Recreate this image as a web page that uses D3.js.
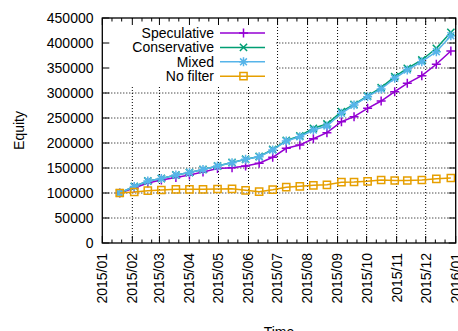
<!DOCTYPE html>
<html>
<head>
<meta charset="utf-8">
<script src="https://cdn.jsdelivr.net/npm/d3@7"></script>
<style>
  html, body { margin: 0; padding: 0; background: #fff; }
  svg { display: block; font-family: "Liberation Sans", Arial, Helvetica, sans-serif; }
</style>
</head>
<body>
<svg id="chart" width="458" height="331"></svg>
<script>
// Sampling dates (roughly every two weeks through 2015)
const dates = [
  "2015-01-19", "2015-02-03", "2015-02-17", "2015-03-03", "2015-03-18",
  "2015-04-01", "2015-04-15", "2015-04-30", "2015-05-15", "2015-05-29",
  "2015-06-12", "2015-06-26", "2015-07-10", "2015-07-24", "2015-08-07",
  "2015-08-21", "2015-09-05", "2015-09-18", "2015-10-02", "2015-10-16",
  "2015-10-30", "2015-11-12", "2015-11-27", "2015-12-12", "2015-12-27"
];

// Equity of each strategy on the dates above
const speculative = [
  100000, 110000, 120000, 126000, 131000, 136000, 142000, 149000, 150500, 154000,
  159400, 171400, 189400, 196000, 208600, 220600, 242600, 252600, 269400, 284000,
  302600, 319400, 334600, 357400, 384000
];
const conservative = [
  100000, 113000, 124000, 129000, 136000, 141000, 147000, 154000, 161000, 167500,
  173000, 187000, 205000, 214000, 229400, 238000, 262600, 277000, 294000, 310600,
  332600, 349400, 366000, 389400, 421400
];
const mixed = [
  100000, 113000, 124000, 129000, 136000, 141000, 147000, 154000, 160600, 167300,
  172600, 186000, 204000, 212600, 226000, 234000, 259400, 276000, 292600, 308000,
  329400, 346000, 362600, 382600, 414600
];
const noFilter = [
  100000, 102000, 104600, 106000, 107400, 107400, 107400, 108000, 108400, 105400,
  102600, 106600, 111600, 113400, 115400, 116400, 121600, 122000, 123400, 126000,
  125000, 125000, 126000, 128400, 130000
];

const seriesNames = ["Speculative", "Conservative", "Mixed", "No filter"];
const seriesValues = [speculative, conservative, mixed, noFilter];
const seriesColors = ["#9400d3", "#009e73", "#56b4e9", "#e69f00"];
const seriesMarkers = ["plus", "times", "star", "square"];

const yTicks = [0, 50000, 100000, 150000, 200000, 250000, 300000, 350000, 400000, 450000];
const xDomain = ["2015-01-01", "2016-01-01"];

const svg = d3.select("#chart");
const plot = { left: 102.3, right: 455.7, top: 18, bottom: 243 };

const parse = d3.utcParse("%Y-%m-%d");
const x = d3.scaleUtc().domain(xDomain.map(parse)).range([plot.left, plot.right]);
const y = d3.scaleLinear().domain([0, 450000]).range([plot.bottom, plot.top]);

const monthTicks = d3.utcMonth.range(parse(xDomain[0]), d3.utcDay.offset(parse(xDomain[1]), 1));
const minorTicks = [];
monthTicks.slice(0, -1).forEach(m => {
  minorTicks.push(d3.utcDay.offset(m, 10), d3.utcDay.offset(m, 20));
});

// grid
const grid = svg.append("g").attr("stroke", "#000").attr("stroke-width", 1)
  .attr("stroke-dasharray", "1,2").attr("fill", "none");
monthTicks.slice(1, -1).forEach(t => {
  grid.append("line").attr("x1", x(t)).attr("x2", x(t))
    .attr("y1", plot.top).attr("y2", plot.bottom);
});
yTicks.slice(1, -1).forEach(v => {
  grid.append("line").attr("x1", plot.left).attr("x2", plot.right)
    .attr("y1", y(v)).attr("y2", y(v));
});

// opaque key background
svg.append("rect").attr("x", plot.left + 1).attr("y", plot.top + 1)
  .attr("width", 172).attr("height", 66).attr("fill", "#fff");

// tick marks on all four sides
const ticks = svg.append("g").attr("stroke", "#000").attr("stroke-width", 1);
monthTicks.forEach(t => {
  ticks.append("line").attr("x1", x(t)).attr("x2", x(t)).attr("y1", plot.bottom).attr("y2", plot.bottom - 7);
  ticks.append("line").attr("x1", x(t)).attr("x2", x(t)).attr("y1", plot.top).attr("y2", plot.top + 7);
});
minorTicks.forEach(t => {
  ticks.append("line").attr("x1", x(t)).attr("x2", x(t)).attr("y1", plot.bottom).attr("y2", plot.bottom - 3.5);
  ticks.append("line").attr("x1", x(t)).attr("x2", x(t)).attr("y1", plot.top).attr("y2", plot.top + 3.5);
});
yTicks.forEach(v => {
  ticks.append("line").attr("x1", plot.left).attr("x2", plot.left + 7).attr("y1", y(v)).attr("y2", y(v));
  ticks.append("line").attr("x1", plot.right).attr("x2", plot.right - 7).attr("y1", y(v)).attr("y2", y(v));
});

// tick labels
const fs = 14;
svg.append("g").selectAll("text").data(yTicks).join("text")
  .attr("x", 93.5).attr("y", d => y(d)).attr("dy", "0.35em")
  .attr("text-anchor", "end").attr("font-size", fs).attr("fill", "#000")
  .text(d => d);

const fmt = d3.utcFormat("%Y/%m");
svg.append("g").selectAll("text").data(monthTicks).join("text")
  .attr("transform", d => `translate(${x(d)},253) rotate(-90)`)
  .attr("dy", "0.35em").attr("text-anchor", "end")
  .attr("font-size", fs).attr("fill", "#000")
  .text(d => fmt(d));

// axis titles
svg.append("text").attr("transform", `translate(24,${(plot.top + plot.bottom) / 2}) rotate(-90)`)
  .attr("text-anchor", "middle").attr("font-size", fs).attr("fill", "#000").text("Equity");
svg.append("text").attr("x", (plot.left + plot.right) / 2).attr("y", 337)
  .attr("text-anchor", "middle").attr("font-size", fs).attr("fill", "#000").text("Time");

// marker shapes
function markerPath(kind) {
  switch (kind) {
    case "plus": return "M-4.5,0H4.5M0,-4.5V4.5";
    case "times": return "M-3.6,-3.6L3.6,3.6M-3.6,3.6L3.6,-3.6";
    case "star": return "M-4.5,0H4.5M0,-4.5V4.5M-3.4,-3.4L3.4,3.4M-3.4,3.4L3.4,-3.4";
    case "square": return "M-3.6,-3.6H3.6V3.6H-3.6Z";
  }
}

const pts = dates.map(parse);
const line = d3.line().x(d => x(d[0])).y(d => y(d[1]));

seriesValues.forEach((vals, i) => {
  const data = pts.map((d, j) => [d, vals[j]]);
  const g = svg.append("g");
  g.append("path").datum(data).attr("d", line)
    .attr("fill", "none").attr("stroke", seriesColors[i]).attr("stroke-width", 1.5);
  g.selectAll("path.m").data(data).join("path").attr("class", "m")
    .attr("transform", d => `translate(${x(d[0])},${y(d[1])})`)
    .attr("d", markerPath(seriesMarkers[i]))
    .attr("fill", "none").attr("stroke", seriesColors[i]).attr("stroke-width", 1.5);
});

// key
const key = svg.append("g");
seriesNames.forEach((name, i) => {
  const ky = 33 + i * 14.4;
  key.append("text").attr("x", 214).attr("y", ky).attr("dy", "0.35em")
    .attr("text-anchor", "end").attr("font-size", fs).attr("fill", "#000").text(name);
  key.append("line").attr("x1", 220).attr("x2", 265).attr("y1", ky).attr("y2", ky)
    .attr("stroke", seriesColors[i]).attr("stroke-width", 1.5);
  key.append("path").attr("transform", `translate(243.5,${ky})`)
    .attr("d", markerPath(seriesMarkers[i]))
    .attr("fill", "none").attr("stroke", seriesColors[i]).attr("stroke-width", 1.5);
});

// border
svg.append("rect").attr("x", plot.left).attr("y", plot.top)
  .attr("width", plot.right - plot.left).attr("height", plot.bottom - plot.top)
  .attr("fill", "none").attr("stroke", "#000").attr("stroke-width", 1.3);
</script>
</body>
</html>
